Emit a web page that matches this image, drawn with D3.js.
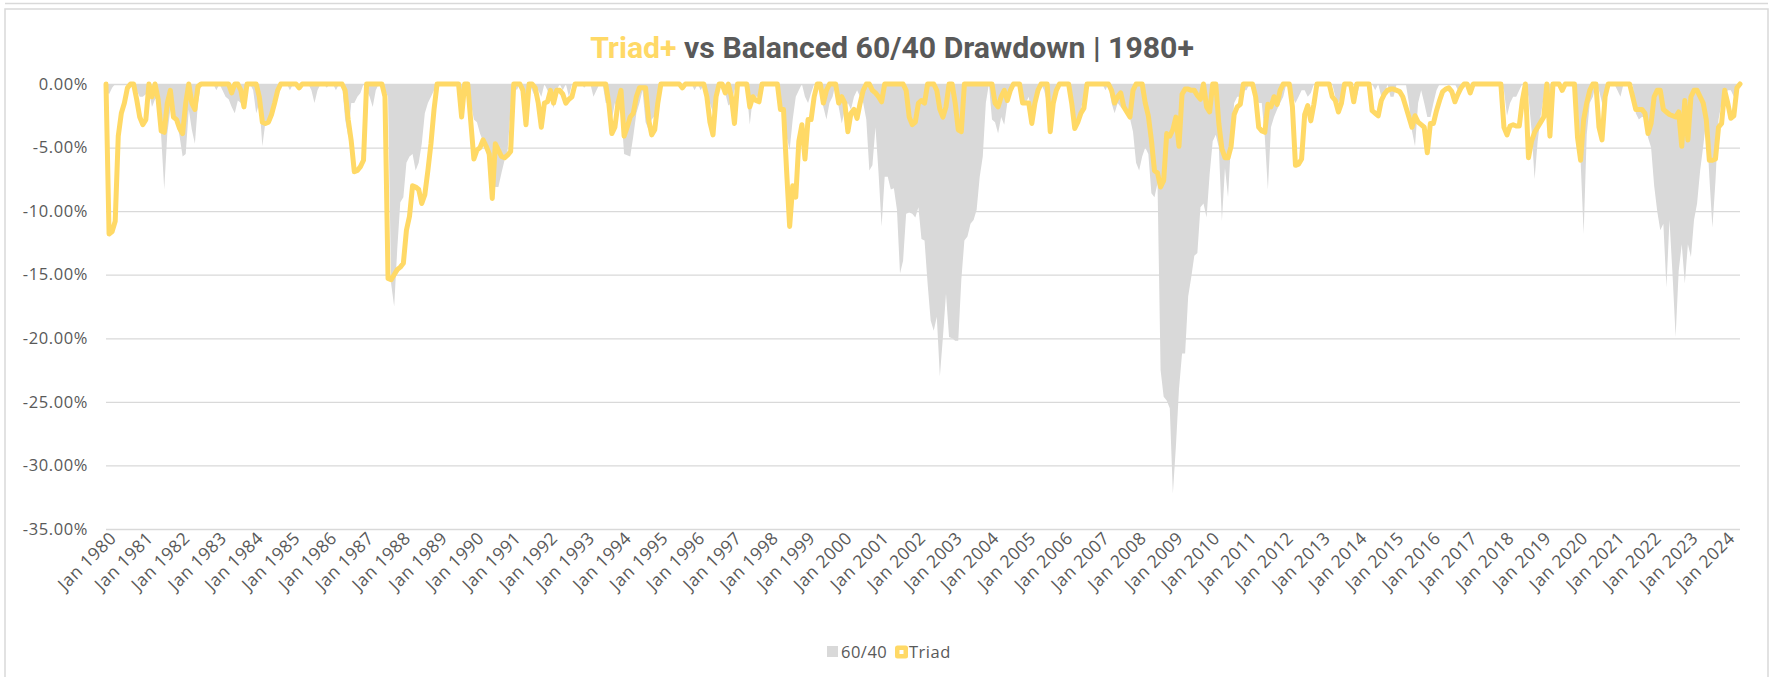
<!DOCTYPE html>
<html>
<head>
<meta charset="utf-8">
<script src="https://cdn.jsdelivr.net/npm/d3@7"></script>
<style>
body{margin:0;background:#fff;}
svg{display:block;font-family:"Open Sans",sans-serif;}
</style>
</head>
<body>
<svg id="chart" width="1775" height="677"></svg>
<script>
// monthly drawdowns in %, Jan 1980 .. Jun 2024, one row per year
const balanced6040 = [
 [-0.5,-0.8,-0.3,0,0,0,0,0,0,0,-0.5,-1.0],
 [-1.0,-0.8,-0.5,-1.8,-1.2,-1.0,-4.1,-8.3,-3.9,-2.0,-2.8,-3.0],
 [-4.1,-5.7,-5.5,-2.0,-3.6,-4.7,-1.5,0,0,0,0,0],
 [-0.5,0,-0.5,-1.0,-1.2,-1.8,-2.3,-1.3,-1.5,-1.8,-0.5,0],
 [-0.5,-2.3,-1.5,-4.9,-3.0,-2.8,-2.2,-1.0,-0.3,0,0,0],
 [-0.5,0,0,0,0,0,0,-0.5,-1.5,-0.5,0,0],
 [-0.3,0,0,-0.5,0,0,-2.8,-4.1,-1.5,-1.5,-1.0,-0.7],
 [0,-0.5,-1.0,-1.8,-0.5,0,0,-0.5,-1.0,-15.7,-17.5,-13.0],
 [-9.3,-8.9,-6.2,-5.7,-5.5,-6.8,-6.2,-4.7,-2.3,-1.5,-1.0,-0.5],
 [-0.5,0,0,0,0,0,0,0,-1.0,-0.5,-0.5,-1.5],
 [-2.8,-3.0,-3.9,-4.5,-5.2,-6.8,-7.8,-8.1,-8.1,-7.0,-6.0,-5.2],
 [-2.0,0,-0.5,0,-0.5,-1.0,0,-0.5,-1.0,-0.5,-1.0,0],
 [-0.5,-1.0,-1.9,-0.5,0,-0.5,0,-1.0,0,-0.5,0,0],
 [-0.3,0,0,-1.0,-0.5,0,0,-1.5,-1.5,-2.8,-1.5,-2.0],
 [-2.0,-5.5,-5.6,-5.7,-4.1,-2.3,-1.5,-0.5,-3.0,-3.6,-2.8,-2.5],
 [-1.0,0,0,0,0,0,0,0,0,0,0,0],
 [-0.5,0,-0.5,0,-1.0,-1.5,-2.3,-0.5,0,-0.5,-0.7,-1.7],
 [-1.5,-0.5,0,0,0,-0.5,-3.2,-1.0,-1.0,-1.0,0,0],
 [0,0,0,0,-1.5,-2.3,-4.1,-5.2,-2.8,-1.0,-0.5,0],
 [-1.0,-1.5,-0.7,0,0,-0.5,-1.8,-2.8,-1.5,-1.0,0,-1.8],
 [-3.1,-2.0,-1.5,-2.0,-1.0,-0.5,-1.0,-1.5,-2.8,-6.8,-6.4,-3.4],
 [-7.0,-11.2,-7.3,-7.3,-8.3,-8.2,-9.9,-14.9,-13.9,-10.2,-10.1,-10.2],
 [-10.5,-9.7,-12.2,-12.3,-15.7,-18.6,-19.4,-18.3,-23.0,-19.9,-16.5,-19.9],
 [-20.0,-20.2,-20.2,-15.4,-12.3,-12.0,-11.0,-10.7,-9.9,-7.3,-5.7,-1.5],
 [0,-2.8,-3.0,-3.9,-2.6,-3.2,-1.5,-0.5,0,0,0,-1.5],
 [-1.5,-1.0,-2.8,-1.0,-0.5,0,-0.5,-1.5,-3.6,-1.0,-0.5,0],
 [0,0,0,-1.0,-3.5,-2.5,-2.0,-1.0,0,0,0,0],
 [0,0,-0.5,0,-1.5,-2.3,-1.5,-1.8,-2.0,-2.3,-2.7,-3.75],
 [-6.2,-6.8,-5.7,-5.0,-5.5,-8.6,-8.9,-7.8,-22.5,-24.6,-24.9,-25.5],
 [-32.2,-28.5,-24.0,-21.2,-21.2,-16.7,-15.2,-13.5,-13.3,-9.7,-9.4,-10.5],
 [-7.1,-4.5,-4.0,-5.0,-10.8,-6.6,-8.9,-4.5,-1.5,-1.0,-1.0,-0.5],
 [-0.5,0,-0.5,-1.0,-1.5,-1.5,-4.2,-8.3,-3.4,-2.6,-2.0,-1.5],
 [-1.0,0,-0.5,-1.0,-1.5,-1.0,-0.5,-0.5,-1.0,-0.7,0,0],
 [0,0,0,0,0,-1.0,-1.5,-1.0,0,0,0,0],
 [-1.0,0,0,0,0,0,-0.5,0,-1.0,-1.0,0,-1.0],
 [-1.0,0,0,0,0,-1.5,-3.7,-4.9,-1.5,-0.5,-1.5,-2.6],
 [-2.6,-1.5,-0.5,0,0,0,0,0,0,-0.5,0,0],
 [0,0,0,0,0,0,0,0,0,0,0,0],
 [-0.5,-2.5,-1.5,-1.0,-1.0,-0.5,0,0,-1.0,-3.6,-7.5,-4.5],
 [-2.5,-1.0,-0.5,-2.0,-0.5,0,0,0,0,0,0,0],
 [-1.5,-6.0,-11.8,-4.0,-1.5,-1.0,0,-0.5,-1.5,-2.0,0,0],
 [0,-0.5,-1.0,0,0,0,0,-2.3,-2.8,-2.6,-2.6,-4.2],
 [-5.0,-8.0,-10.0,-11.5,-11.0,-16.0,-10.7,-15.0,-19.9,-14.7,-12.6,-15.7],
 [-12.6,-13.6,-10.7,-9.4,-6.8,-4.9,-2.8,-7.3,-11.3,-7.6,-2.8,-1.5],
 [-1.0,-0.5,-0.5,-1.0,-0.5,0]
].flat();

const triad = [
 [0,-11.8,-11.6,-10.8,-4.1,-2.3,-1.5,-0.3,0,0,-1.2,-2.6],
 [-3.2,-2.8,0,-1.0,0,-1.2,-3.7,-3.8,-1.5,-0.5,-2.6,-2.8],
 [-3.5,-3.9,-1.5,0,-1.5,-2.0,-0.2,0,0,0,0,0],
 [0,0,0,0,0,-0.7,0,0,-0.5,-1.8,0,0],
 [0,0,-1.0,-3.0,-3.1,-3.0,-2.4,-1.5,-0.5,0,0,0],
 [0,0,0,-0.3,0,0,0,0,0,0,0,0],
 [0,0,0,0,0,0,-0.5,-2.8,-4.5,-6.9,-6.8,-6.5],
 [-6.0,0,0,0,0,0,0,-1.0,-15.3,-15.4,-15.0,-14.6],
 [-14.4,-14.1,-11.5,-10.4,-8.0,-8.1,-8.3,-9.4,-8.7,-6.8,-4.7,-2.0],
 [0,0,0,0,0,0,0,0,-2.6,0,0,-3.0],
 [-5.9,-5.2,-5.0,-4.4,-4.9,-5.5,-9.0,-4.7,-5.2,-5.7,-5.8,-5.6],
 [-5.3,0,0,0,-0.5,-3.2,0,0,-0.3,-1.5,-3.4,-1.5],
 [-1.4,-0.5,-1.5,-0.5,-0.5,-0.8,-1.5,-1.2,-1.0,0,0,0],
 [0,0,0,0,0,0,0,0,-1.5,-3.9,-3.4,-1.5],
 [-0.5,-4.1,-3.4,-2.6,-2.3,-1.0,-0.3,-0.3,-0.3,-2.8,-4.0,-3.6],
 [-1.5,0,0,0,0,0,0,0,-0.3,0,0,0],
 [0,0,0,0,-1.0,-3.0,-4.0,-1.0,0,0,-0.7,0],
 [-1.0,-3.1,0,0,0,0,-1.8,-1.0,-1.3,-1.4,0,0],
 [0,0,0,0,-2.0,-2.0,-6.8,-11.2,-8.0,-8.9,-4.5,-3.2],
 [-5.9,-2.8,-2.8,-1.0,0,0,-1.5,-0.5,0,0,0,-1.5],
 [-1.0,-1.5,-3.75,-2.3,-2.0,-2.7,-1.5,-0.5,0,0,-0.5,-0.7],
 [-1.0,-1.4,0,0,0,0,0,0,0,-0.5,-2.6,-3.2],
 [-3.0,-1.5,-1.3,-1.5,0,0,0,-0.5,-2.0,-2.6,-1.8,0],
 [0,-1.5,-3.6,-3.75,0,0,0,0,0,0,0,0],
 [0,0,-1.5,-1.8,-1.0,-0.5,-1.3,-0.5,0,0,0,-1.5],
 [-1.5,-1.5,-3.1,-1.5,-0.5,0,0,0,-3.75,-1.5,-0.5,0],
 [0,0,0,-1.5,-3.5,-3.0,-2.3,-1.9,0,0,0,0],
 [0,0,0,0,-0.5,-1.5,-1.0,-0.7,-1.8,-2.2,-2.6,-0.5],
 [0,0,0,-1.5,-2.5,-4.4,-6.8,-7.0,-8.1,-7.6,-3.9,-4.1],
 [-3.6,-2.6,-4.9,-0.8,-0.4,-0.4,-0.5,-0.5,-0.9,-1.2,0,-1.8],
 [-2.2,0,0,-3.1,-5.1,-5.8,-5.8,-4.9,-2.4,-1.8,-1.6,0],
 [0,0,0,-1.0,-3.4,-3.7,-3.8,-1.6,-1.8,-1.0,-1.6,-0.5],
 [0,0,0,-1.8,-6.4,-6.3,-5.9,-2.4,-1.7,-2.9,-1.6,0],
 [0,0,0,0,-1.0,-1.3,-2.2,-1.5,0,0,0,-1.4],
 [0,0,0,0,0,-2.1,-2.3,-2.5,-1.3,-0.8,-0.5,-0.4],
 [-0.4,-0.5,-0.6,-1.0,-1.8,-2.6,-3.4,-2.5,-3.0,-3.2,-3.4,-5.4],
 [-3.1,-3.1,-2.1,-1.3,-0.6,-0.4,-0.3,-0.6,-1.4,-0.8,-0.3,0],
 [0,-0.7,0,0,0,0,0,0,0,0,0,0],
 [-3.4,-4.0,-3.3,-3.2,-3.3,-3.3,-1.3,0,-5.8,-4.5,-3.8,-3.4],
 [-3.0,-2.6,0,-4.1,0,0,0,-0.5,0,0,0,0],
 [-4.2,-6.0,-2.8,-1.5,-0.5,0,0,-3.4,-4.4,-1.0,0,0],
 [0,0,0,0,0,0,-1.0,-2.0,-2.0,-2.0,-2.3,-3.9],
 [-3.1,-1.0,-0.5,-0.5,-2.0,-2.2,-2.4,-2.5,-2.6,-2.2,-4.9,-1.3],
 [-4.4,-1.0,-0.5,-0.5,-1.0,-1.5,-2.8,-6.0,-6.0,-5.9,-3.4,-3.1],
 [-0.5,-1.5,-2.7,-2.5,-0.3,0]
].flat();

const months = d3.timeMonth.range(new Date(1980, 0, 1), new Date(2024, 6, 1));
const yTicks = [0, -5, -10, -15, -20, -25, -30, -35];
const xTickLabels = d3.range(1980, 2025).map(y => "Jan " + y);
const seriesNames = ["60/40", "Triad"];

const svg = d3.select("#chart");
const plotL = 106, plotR = 1740, plotT = 84, plotB = 529;
const textCol = "#595959", gridCol = "#d9d9d9", gold = "#ffd966";

// frame
svg.append("line").attr("x1", 5).attr("x2", 1768).attr("y1", 3.5).attr("y2", 3.5).attr("stroke", gridCol).attr("stroke-width", 1.5);
svg.append("rect").attr("x", 5).attr("y", 9).attr("width", 1763).attr("height", 680)
  .attr("fill", "none").attr("stroke", gridCol).attr("stroke-width", 1.5);

const x = d3.scalePoint().domain(d3.range(months.length)).range([plotL, plotR]);
const y = d3.scaleLinear().domain([-35, 0]).range([plotB, plotT]);

// y axis + gridlines
const yAxis = svg.append("g").attr("transform", `translate(${plotL},0)`)
  .call(d3.axisLeft(y).tickValues(yTicks).tickSize(-(plotR - plotL)).tickPadding(18)
    .tickFormat(d => d === 0 ? "0.00%" : d.toFixed(2) + "%"));
yAxis.select(".domain").remove();
yAxis.selectAll(".tick line").attr("stroke", gridCol).attr("stroke-width", 1.3);
yAxis.selectAll(".tick text").attr("fill", textCol).style("font-size", "16.5px")
  .style("letter-spacing", "0.6px").attr("font-family", "Open Sans");

// 60/40 area
svg.append("path").datum(balanced6040)
  .attr("fill", gridCol)
  .attr("d", d3.area().x((d, i) => x(i)).y0(y(0)).y1(d => y(d)));

// Triad line
svg.append("path").datum(triad)
  .attr("fill", "none").attr("stroke", gold).attr("stroke-width", 5)
  .attr("stroke-linejoin", "round").attr("stroke-linecap", "round")
  .attr("d", d3.line().x((d, i) => x(i)).y(d => y(d)));

// x labels, one per January
svg.append("g").selectAll("text").data(xTickLabels).join("text")
  .attr("transform", (d, i) => `translate(${x(i * 12) + 7},${plotB + 6}) rotate(-45)`)
  .attr("text-anchor", "end").attr("dy", "0.35em")
  .attr("fill", textCol).style("font-size", "17.5px").style("letter-spacing", "0.5px")
  .text(d => d);

// title
const title = svg.append("text").attr("x", 892).attr("y", 58).attr("text-anchor", "middle")
  .attr("font-family", "Roboto").attr("font-weight", "bold").style("font-size", "26px");
title.append("tspan").attr("fill", gold).text("Triad+");
title.append("tspan").attr("fill", textCol).text(" vs Balanced 60/40 Drawdown | 1980+");
const tw = title.node().getComputedTextLength();
title.style("font-size", (26 * 604 / tw).toFixed(2) + "px");

// legend
const lg = svg.append("g").attr("transform", "translate(827,652)");
lg.append("rect").attr("x", 0).attr("y", -6).attr("width", 11).attr("height", 11).attr("fill", gridCol);
lg.append("text").attr("x", 14).attr("y", 0).attr("dy", "0.35em").attr("fill", textCol)
  .style("font-size", "16.5px").style("letter-spacing", "0.5px").text(seriesNames[0]);
lg.append("rect").attr("x", 68).attr("y", -6.5).attr("width", 13).attr("height", 13).attr("rx", 2.5)
  .attr("fill", gold);
lg.append("rect").attr("x", 72.5).attr("y", -2).attr("width", 4).attr("height", 4).attr("fill", "#fff");
lg.append("text").attr("x", 82).attr("y", 0).attr("dy", "0.35em").attr("fill", textCol)
  .style("font-size", "16.5px").style("letter-spacing", "0.5px").text(seriesNames[1]);
</script>
</body>
</html>
